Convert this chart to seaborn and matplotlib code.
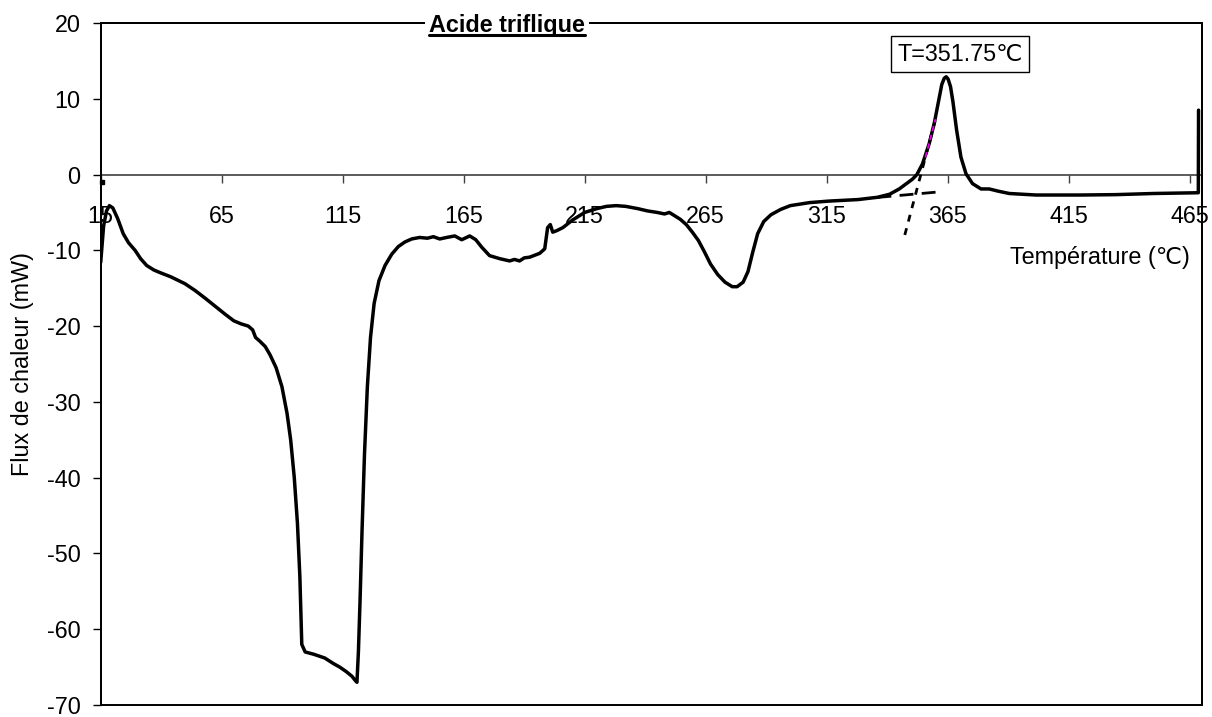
import matplotlib
matplotlib.use("Agg")
import matplotlib.pyplot as plt
import pandas as pd
import seaborn as sns
from matplotlib.patches import Rectangle
from matplotlib.lines import Line2D

# ---------------- data ----------------
temperature = [15.0, 16.2, 17.4, 18.6, 20.0, 22.0, 24.3, 26.5, 29.2, 31.5, 34.0, 37.0, 40.0, 44.0,
               49.8, 54.0, 58.1, 62.0, 66.3, 70.0, 73.0, 76.0, 77.8, 79.0, 80.8, 83.0, 85.0, 87.5,
               89.9, 92.0, 93.5, 95.0, 96.3, 97.3, 98.1, 99.5, 103.0, 107.6, 111.0, 113.8, 116.5,
               118.8, 120.3, 120.9, 121.5, 122.2, 123.0, 124.0, 125.2, 126.5, 128.0, 130.0, 132.5,
               135.3, 138.0, 140.7, 143.5, 146.8, 150.0, 152.5, 155.1, 158.0, 161.3, 164.2, 167.5,
               170.0, 172.5, 175.7, 179.9, 184.0, 186.0, 188.1, 190.0, 192.3, 196.4, 198.5, 199.7,
               200.8, 201.8, 203.5, 206.0, 210.0, 215.0, 220.0, 224.0, 228.0, 232.0, 237.0, 241.0,
               245.0, 248.0, 250.0, 252.0, 254.5, 257.0, 259.5, 262.0, 264.5, 267.0, 270.0, 273.0,
               276.0, 278.0, 280.5, 282.5, 284.5, 286.5, 289.0, 292.0, 296.0, 300.0, 308.0, 316.0,
               328.0, 336.0, 341.0, 345.0, 348.0, 350.5, 352.3, 354.6, 357.4, 359.5, 361.3, 362.6,
               363.6, 364.4, 365.2, 366.2, 367.2, 368.7, 370.5, 372.6, 375.3, 378.8, 382.2, 386.0,
               390.5, 401.5, 420.0, 434.5, 450.0, 467.5, 468.6, 468.7]
heat_flow = [-11.6, -6.8, -4.8, -4.1, -4.4, -5.8, -7.8, -9.0, -10.0, -11.1, -12.0, -12.6, -13.0, -13.5,
             -14.4, -15.3, -16.3, -17.3, -18.4, -19.3, -19.7, -20.0, -20.5, -21.5, -22.0, -22.7, -23.8, -25.5,
             -28.0, -31.5, -35.0, -40.0, -46.0, -53.0, -62.0, -63.0, -63.3, -63.8, -64.5, -65.0, -65.6,
             -66.2, -66.8, -67.0, -63.0, -56.0, -47.0, -37.0, -28.0, -21.5, -17.0, -14.0, -12.0,
             -10.5, -9.5, -8.9, -8.5, -8.3, -8.4, -8.2, -8.5, -8.3, -8.1, -8.6, -8.1,
             -8.6, -9.6, -10.7, -11.1, -11.4, -11.2, -11.4, -11.0, -10.9, -10.4, -9.8, -7.0,
             -6.6, -7.6, -7.4, -7.0, -6.0, -5.0, -4.5, -4.2, -4.1, -4.2, -4.5, -4.8,
             -5.0, -5.2, -5.0, -5.4, -5.9, -6.6, -7.6, -8.7, -10.2, -11.8, -13.2, -14.2,
             -14.8, -14.8, -14.2, -12.8, -10.2, -7.8, -6.2, -5.3, -4.6, -4.1, -3.7, -3.5,
             -3.3, -3.0, -2.6, -1.9, -1.2, -0.6, 0.0, 1.4, 4.1, 6.8, 9.8, 11.9,
             12.7, 12.9, 12.6, 11.6, 9.6, 5.9, 2.3, 0.1, -1.2, -1.9, -1.9, -2.2,
             -2.5, -2.7, -2.7, -2.65, -2.5, -2.4, -2.4, 8.5]

x_ticks = [15, 65, 115, 165, 215, 265, 315, 365, 415, 465]
y_ticks = [-70, -60, -50, -40, -30, -20, -10, 0, 10, 20]

onset_label = "T=351.75\u2103"
title_text = "Acide triflique"
x_label = "Température (\u2103)"
y_label = "Flux de chaleur (mW)"

# onset construction (tangents)
tangent_T = [347.3, 360.0]
tangent_V = [-7.97, 7.32]
tangent_hl_T = [355.8, 360.0]
tangent_hl_V = [2.26, 7.32]
baseline_T = [336.0, 361.0]
baseline_V = [-3.02, -2.30]
marker_T = [15.4]
marker_V = [-1.0]

# ---------------- style ----------------
sns.set_theme(style="white")
plt.rcParams["font.family"] = ["Liberation Sans", "DejaVu Sans"]
FS = 16.8

fig = plt.figure(figsize=(12.12, 7.17), dpi=100)
ax = fig.add_axes([100.7 / 1212, 12 / 717, 1101 / 1212, 682 / 717])

df = pd.DataFrame({"T": temperature, "V": heat_flow})
sns.lineplot(data=df, x="T", y="V", sort=False, estimator=None, color="black",
             lw=2.5, ax=ax, zorder=3)

ax.plot(tangent_T, tangent_V, color="black", lw=2.0, ls=(0, (2.5, 2.5)), zorder=2)
ax.plot(tangent_hl_T, tangent_hl_V, color="#e000e0", lw=1.3, ls=(0, (3, 2)), zorder=4)
ax.plot(baseline_T, baseline_V, color="black", lw=2.0, ls=(0, (5, 3)), zorder=2)
ax.plot(marker_T, marker_V, "s", color="black", ms=3, zorder=4, clip_on=False)

ax.set_xlim(15, 470)
ax.set_ylim(-70, 20)
ax.set_xticks(x_ticks)
ax.set_xticklabels([str(v) for v in x_ticks])
ax.set_yticks(y_ticks)
ax.set_yticklabels([str(v) for v in y_ticks])
ax.set_xlabel("")
ax.set_ylabel(y_label, fontsize=FS, labelpad=9, color="black")

# horizontal axis crosses at 0
ax.spines["bottom"].set_position(("data", 0))
ax.spines["bottom"].set_color("#404040")
ax.spines["bottom"].set_linewidth(1.2)
ax.spines["bottom"].set_zorder(1)
for s in ["left", "right", "top"]:
    ax.spines[s].set_color("black")
    ax.spines[s].set_linewidth(1.4)
# frame bottom
ax.add_patch(Rectangle((0, 0), 1, 1, transform=ax.transAxes, fill=False,
                       ec="black", lw=1.4, zorder=5, clip_on=False))

ax.tick_params(axis="x", direction="out", length=6, width=1, color="#404040",
               pad=16, labelsize=FS, labelcolor="black", bottom=True)
ax.tick_params(axis="y", direction="out", length=6, width=1, color="black",
               pad=8.5, labelsize=FS, labelcolor="black", left=True)
ax.grid(False)

ax.text(0.989, 0.656, x_label, transform=ax.transAxes, ha="right", va="center",
        fontsize=FS, color="black")

ax.text(370.1, 15.9, onset_label, ha="center", va="center", fontsize=FS, color="black",
        bbox=dict(boxstyle="square,pad=0.27", fc="white", ec="black", lw=1.0), zorder=6)

title = fig.text(507 / 1212, 1 - 31.7 / 717, title_text, ha="center", va="baseline",
                 fontsize=FS, fontweight="bold", color="black", zorder=10,
                 bbox=dict(fc="white", ec="none", pad=3))

fig.canvas.draw()
bb = title.get_window_extent(renderer=fig.canvas.get_renderer())
uy = (717 - 35.0) / 717
fig.add_artist(Line2D([bb.x0 / 1212, bb.x1 / 1212], [uy, uy], transform=fig.transFigure,
                      color="black", lw=2.2, zorder=11))

fig.savefig("out.png", dpi=100)
